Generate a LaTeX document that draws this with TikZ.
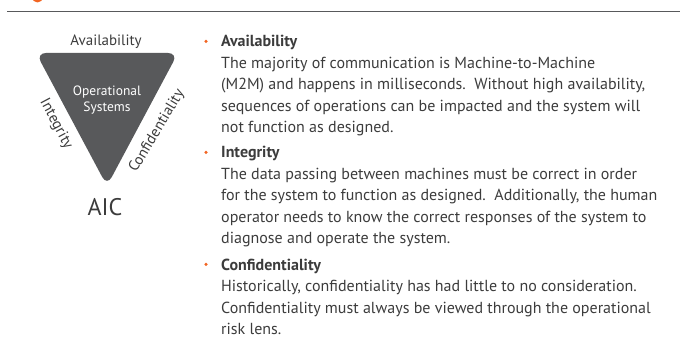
\documentclass[tikz,border=0pt]{standalone}
\usepackage{fontspec}
\setmainfont{PT Sans}
\usetikzlibrary{positioning, calc}
\definecolor{aicgray}{HTML}{58595B}
\definecolor{aicorange}{HTML}{F26522}
\definecolor{aictext}{HTML}{3C3C3C}

\begin{document}
\begin{tikzpicture}[x=1pt, y=-1pt,
	lbl/.style={text=aictext, inner sep=0pt, font=\fontsize{15}{17}\selectfont},
	item/.style={anchor=base west, align=left, text=aictext, inner sep=0pt, font=\fontsize{16}{21.5}\selectfont},
	dot/.style={circle, fill=aicorange, inner sep=0pt, minimum size=3.5pt}]
	\useasboundingbox (0,0) rectangle (680,347);
	% cut heading and rule
	\begin{scope}
		\clip (0,0) rectangle (680,347);
		\fill[aicorange] (37.5,-3) ellipse [x radius=5.5, y radius=5.5];
	\end{scope}
	\draw[aicgray, line width=1.6pt] (7,11.5) -- (680,11.5);
	% triangle
	\coordinate (tl) at (36,53); \coordinate (tr) at (178,53); \coordinate (tip) at (107,186);
	\fill[aicgray, rounded corners=10pt] (tl) -- (tr) -- (tip) -- cycle;
	\node[lbl] (avail) at (106,41.7) {Availability};
	\node[lbl, text=white, align=center, font=\fontsize{13.5}{15.5}\selectfont] (ops) at (107,100) {Operational\\Systems};
	\node[lbl, rotate=-62] (integ) at (56,124) {Integrity};
	\node[lbl, rotate=59] (conf) at (157,131) {Confidentiality};
	\node[lbl, font=\fontsize{24}{26}\selectfont] (aic) at (105,207) {AIC};
	% bullet list (anchored at the last line)
	\node[item] (availtxt) at (221,133) {\textbf{Availability}\\The majority of communication is Machine-to-Machine\\(M2M) and happens in milliseconds.\ \ Without high availability,\\sequences of operations can be impacted and the system will\\not function as designed.};
	\node[item] (integtxt) at (221,244) {\textbf{Integrity}\\The data passing between machines must be correct in order\\for the system to function as designed.\ \ Additionally, the human\\operator needs to know the correct responses of the system to\\diagnose and operate the system.};
	\node[item] (conftxt) at (221,334.5) {\textbf{Confidentiality}\\Historically, confidentiality has had little to no consideration.\\Confidentiality must always be viewed through the operational\\risk lens.};
	\foreach \t in {availtxt, integtxt, conftxt}
		\node[dot] at ($(\t.north west)+(-15,6)$) {};
\end{tikzpicture}
\end{document}
